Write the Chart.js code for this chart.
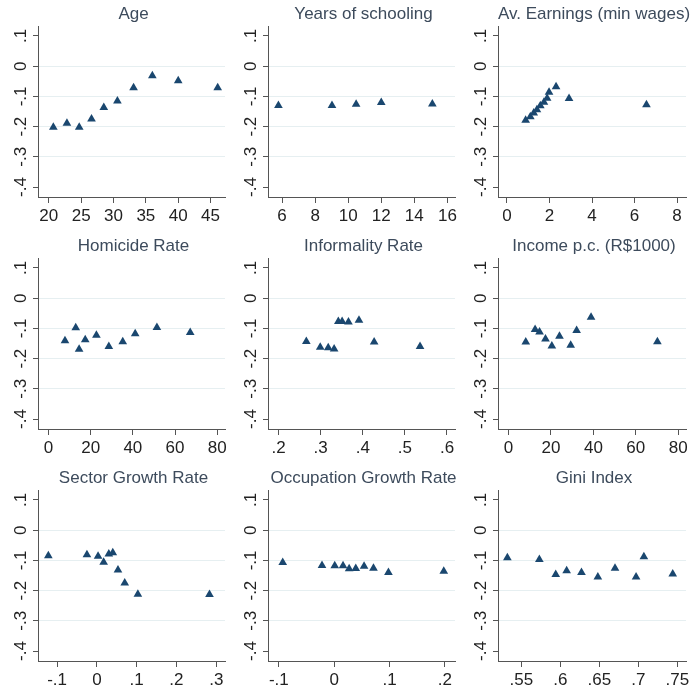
<!DOCTYPE html>
<html lang="en">
<head>
<meta charset="UTF-8">
<title>Coefficients by group</title>
<script src="https://cdn.jsdelivr.net/npm/chart.js"></script>
<style>
  body { margin: 0; background: #ffffff; }
  #wrap { position: relative; width: 691px; height: 694px; overflow: hidden; background: #ffffff; }
  canvas { position: absolute; }
</style>
</head>
<body>
<div id="wrap"></div>
<script>
// datos
const ageX = [20.7, 22.8, 24.7, 26.6, 28.5, 30.6, 33.1, 36.0, 40.0, 46.1];
const ageY = [-0.202, -0.189, -0.202, -0.175, -0.137, -0.115, -0.071, -0.032, -0.048, -0.071];
const schoolX = [5.78, 9.02, 10.48, 12.0, 15.09];
const schoolY = [-0.130, -0.130, -0.126, -0.120, -0.125];
const earnX = [0.88, 1.10, 1.26, 1.41, 1.57, 1.74, 1.89, 1.98, 2.31, 2.92, 6.56];
const earnY = [-0.179, -0.167, -0.155, -0.144, -0.131, -0.119, -0.106, -0.086, -0.068, -0.107, -0.128];
const homX = [7.8, 12.9, 14.5, 17.4, 22.7, 28.6, 35.2, 41.1, 51.4, 67.2];
const homY = [-0.141, -0.098, -0.169, -0.138, -0.123, -0.160, -0.144, -0.118, -0.097, -0.114];
const informX = [0.266, 0.299, 0.318, 0.332, 0.342, 0.351, 0.366, 0.391, 0.427, 0.536];
const informY = [-0.143, -0.162, -0.164, -0.168, -0.077, -0.077, -0.079, -0.073, -0.145, -0.160];
const incomeX = [8.1, 12.5, 14.6, 17.4, 20.4, 24.0, 29.3, 32.1, 38.9, 70.2];
const incomeY = [-0.145, -0.104, -0.112, -0.135, -0.158, -0.126, -0.156, -0.107, -0.063, -0.144];
const sectorX = [-0.122, -0.025, 0.003, 0.017, 0.030, 0.040, 0.053, 0.070, 0.103, 0.283];
const sectorY = [-0.085, -0.081, -0.086, -0.106, -0.079, -0.075, -0.132, -0.175, -0.212, -0.213];
const occX = [-0.093, -0.022, 0.001, 0.016, 0.027, 0.039, 0.054, 0.071, 0.098, 0.198];
const occY = [-0.107, -0.117, -0.118, -0.118, -0.128, -0.127, -0.119, -0.126, -0.140, -0.136];
const giniX = [0.532, 0.573, 0.594, 0.608, 0.627, 0.648, 0.670, 0.697, 0.707, 0.744];
const giniY = [-0.091, -0.097, -0.147, -0.134, -0.140, -0.155, -0.126, -0.155, -0.088, -0.145];

// etiquetas de los ejes
const yTicks = [-0.4, -0.3, -0.2, -0.1, 0, 0.1];
const ageTicks = [20, 25, 30, 35, 40, 45];
const schoolTicks = [6, 8, 10, 12, 14, 16];
const earnTicks = [0, 2, 4, 6, 8];
const homTicks = [0, 20, 40, 60, 80];
const informTicks = [0.2, 0.3, 0.4, 0.5, 0.6];
const incomeTicks = [0, 20, 40, 60, 80];
const sectorTicks = [-0.1, 0, 0.1, 0.2, 0.3];
const occTicks = [-0.1, 0, 0.1, 0.2];
const giniTicks = [0.55, 0.6, 0.65, 0.7, 0.75];

const panels = [
  { title: "Age", x: ageX, y: ageY, ticks: ageTicks, min: 18.33, max: 47.23 },
  { title: "Years of schooling", x: schoolX, y: schoolY, ticks: schoolTicks, min: 5.15, max: 16.46 },
  { title: "Av. Earnings (min wages)", x: earnX, y: earnY, ticks: earnTicks, min: -0.42, max: 8.42 },
  { title: "Homicide Rate", x: homX, y: homY, ticks: homTicks, min: -5.0, max: 83.7 },
  { title: "Informality Rate", x: informX, y: informY, ticks: informTicks, min: 0.175, max: 0.619 },
  { title: "Income p.c. (R$1000)", x: incomeX, y: incomeY, ticks: incomeTicks, min: -5.0, max: 83.7 },
  { title: "Sector Growth Rate", x: sectorX, y: sectorY, ticks: sectorTicks, min: -0.148, max: 0.322 },
  { title: "Occupation Growth Rate", x: occX, y: occY, ticks: occTicks, min: -0.1196, max: 0.2183 },
  { title: "Gini Index", x: giniX, y: giniY, ticks: giniTicks, min: 0.520, max: 0.761 }
];

const navy = "#1a476f";
const family = "'Liberation Sans', Arial, sans-serif";

// formato tipo Stata: .1, -.2, 0
function stataLabel(v) {
  const s = String(Math.round(v * 1000) / 1000);
  return s.replace(/^(-?)0\./, "$1.");
}

// titulo del panel y etiquetas del eje y giradas
const panelDecor = {
  id: "panelDecor",
  afterDraw(chart, args, opts) {
    const ctx = chart.ctx;
    const area = chart.chartArea;
    const yScale = chart.scales.y;
    ctx.save();
    ctx.textAlign = "center";
    ctx.textBaseline = "alphabetic";
    ctx.fillStyle = "#3d4b5c";
    ctx.font = "17px " + family;
    ctx.fillText(opts.title, (area.left + area.right) / 2 + 2, 19);
    ctx.fillStyle = "#222222";
    ctx.font = "17px " + family;
    yScale.ticks.forEach(t => {
      ctx.save();
      ctx.translate(area.left - 12, yScale.getPixelForValue(t.value));
      ctx.rotate(-Math.PI / 2);
      ctx.fillText(stataLabel(t.value), 0, 0);
      ctx.restore();
    });
    ctx.restore();
  }
};

const wrap = document.getElementById("wrap");
const colX = [0, 230, 460], colW = [230, 230, 231];
const rowY = [0, 232, 464], rowH = [232, 232, 230];

panels.forEach((p, i) => {
  const col = i % 3, row = Math.floor(i / 3);
  const canvas = document.createElement("canvas");
  canvas.width = colW[col];
  canvas.height = rowH[row];
  canvas.style.left = colX[col] + "px";
  canvas.style.top = rowY[row] + "px";
  wrap.appendChild(canvas);

  new Chart(canvas, {
    type: "scatter",
    data: {
      datasets: [{
        data: p.x.map((v, k) => ({ x: v, y: p.y[k] })),
        pointStyle: "triangle",
        pointRadius: 5,
        pointHoverRadius: 5,
        pointBackgroundColor: navy,
        pointBorderColor: navy,
        pointBorderWidth: 0
      }]
    },
    options: {
      responsive: false,
      animation: false,
      devicePixelRatio: 1,
      events: [],
      layout: { padding: { top: 26, right: colW[col] - 228, left: 0, bottom: 0 } },
      plugins: {
        legend: { display: false },
        tooltip: { enabled: false },
        panelDecor: { title: p.title }
      },
      scales: {
        x: {
          type: "linear",
          min: p.min,
          max: p.max,
          afterBuildTicks: s => { s.ticks = p.ticks.map(v => ({ value: v })); },
          afterFit: s => { s.height = s.chart.height - 197; s.paddingLeft = 0; s.paddingRight = 0; },
          grid: { display: true, drawOnChartArea: false, drawTicks: true, tickLength: 6, tickColor: "#555555", tickWidth: 1 },
          border: { display: true, color: "#555555", width: 1 },
          ticks: {
            color: "#222222",
            font: { family: family, size: 17 },
            padding: 3,
            maxRotation: 0,
            autoSkip: false,
            callback: v => stataLabel(v)
          }
        },
        y: {
          type: "linear",
          min: -0.433,
          max: 0.133,
          afterBuildTicks: s => { s.ticks = yTicks.map(v => ({ value: v })); },
          afterFit: s => { s.width = 38; s.paddingTop = 0; s.paddingBottom = 0; },
          grid: {
            display: true,
            drawTicks: true,
            tickLength: 5,
            tickColor: "#555555",
            tickWidth: 1,
            lineWidth: 1,
            color: c => (c.index === 0 || c.index === yTicks.length - 1) ? "rgba(0,0,0,0)" : "#e6eff1"
          },
          border: { display: true, color: "#555555", width: 1 },
          ticks: { display: false }
        }
      }
    },
    plugins: [panelDecor]
  });
});
</script>
</body>
</html>
